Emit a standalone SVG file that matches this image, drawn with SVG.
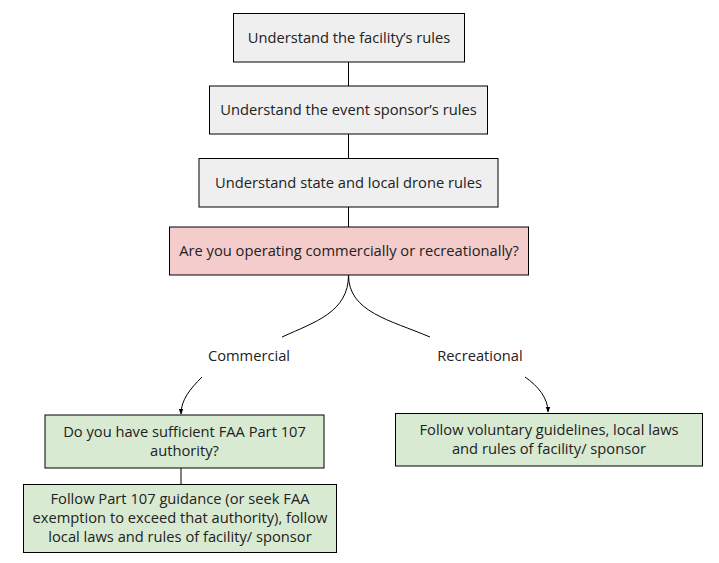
<svg xmlns="http://www.w3.org/2000/svg" width="719" height="563" viewBox="0 0 719 563">
<defs>
<style>
.box{stroke:#000;stroke-width:1}
.g{fill:#efefef}.p{fill:#f4cccc}.gr{fill:#d9ead3}
text{font-family:"Open Sans","Noto Sans","Liberation Sans",sans-serif;font-size:14.7px;fill:#222;text-anchor:middle}
.c{fill:none;stroke:#000;stroke-width:1}
</style>
<marker id="ah" viewBox="0 0 10 10" refX="9" refY="5" markerWidth="6" markerHeight="6" orient="auto" markerUnits="userSpaceOnUse">
<path d="M0,1 L10,5 L0,9 z" fill="#000"/>
</marker>
</defs>
<rect width="719" height="563" fill="#fff"/>
<g id="connectors">
<line class="c" x1="348.5" y1="62" x2="348.5" y2="86"/>
<line class="c" x1="348.5" y1="134" x2="348.5" y2="158"/>
<line class="c" x1="348.5" y1="207" x2="348.5" y2="227"/>
<path class="c" d="M348.5,275 C348.5,312 315,322 282,337"/>
<path class="c" d="M348.5,275 C348.5,312 390,320 430,337"/>
<path class="c" d="M202,377 C190,389 181,400 181,414" marker-end="url(#ah)"/>
<path class="c" d="M525,377 C538,386 548,398 548,412" marker-end="url(#ah)"/>
<line class="c" x1="181" y1="468" x2="181" y2="484"/>
</g>
<g id="n1"><rect class="box g" x="233.5" y="13.5" width="231" height="48.5"/><text x="349" y="43">Understand the facility’s rules</text></g>
<g id="n2"><rect class="box g" x="209.5" y="86" width="278" height="48"/><text x="348.5" y="115">Understand the event sponsor’s rules</text></g>
<g id="n3"><rect class="box g" x="199" y="158.5" width="299" height="48.5"/><text x="348.5" y="188">Understand state and local drone rules</text></g>
<g id="n4"><rect class="box p" x="169.5" y="227" width="359" height="48"/><text x="349" y="256">Are you operating commercially or recreationally?</text></g>
<g id="l1"><text x="249" y="361">Commercial</text></g>
<g id="l2"><text x="480" y="361">Recreational</text></g>
<g id="n5"><rect class="box gr" x="45" y="415" width="279" height="53"/><text x="184.5" y="437">Do you have sufficient FAA Part 107</text><text x="184.5" y="456">authority?</text></g>
<g id="n6"><rect class="box gr" x="23.5" y="484.5" width="313" height="68"/><text x="180" y="504">Follow Part 107 guidance (or seek FAA</text><text x="180" y="523">exemption to exceed that authority), follow</text><text x="180" y="542">local laws and rules of facility/ sponsor</text></g>
<g id="n7"><rect class="box gr" x="395.5" y="413.5" width="307" height="52.5"/><text x="549" y="435">Follow voluntary guidelines, local laws</text><text x="549" y="454">and rules of facility/ sponsor</text></g>
</svg>
